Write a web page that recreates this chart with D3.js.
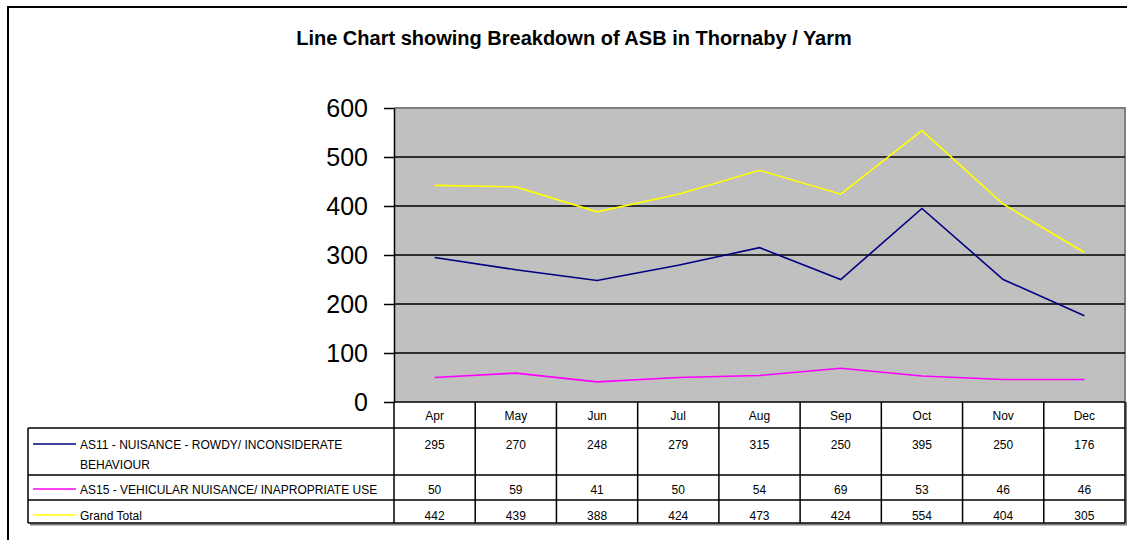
<!DOCTYPE html>
<html>
<head>
<meta charset="utf-8">
<script src="https://cdnjs.cloudflare.com/ajax/libs/d3/7.8.5/d3.min.js"></script>
<style>
  body { margin: 0; background: #fff; overflow: hidden; }
  svg { display: block; font-family: "Liberation Sans", Arial, sans-serif; }
</style>
</head>
<body>
<div id="chart"></div>
<script>
// data
const months = ["Apr", "May", "Jun", "Jul", "Aug", "Sep", "Oct", "Nov", "Dec"];
const seriesNames = [
  ["AS11 - NUISANCE - ROWDY/ INCONSIDERATE", "BEHAVIOUR"],
  ["AS15 - VEHICULAR NUISANCE/ INAPROPRIATE USE"],
  ["Grand Total"]
];
const as11 = [295, 270, 248, 279, 315, 250, 395, 250, 176];
const as15 = [50, 59, 41, 50, 54, 69, 53, 46, 46];
const grandTotal = [442, 439, 388, 424, 473, 424, 554, 404, 305];
const seriesColors = ["#000080", "#ff00ff", "#ffff00"];
const yTicks = [0, 100, 200, 300, 400, 500, 600];

const series = [as11, as15, grandTotal];

const W = 1127, H = 540;
const plot = { left: 394, right: 1125, top: 108, bottom: 402 };
// table rows: header, AS11, AS15, total
const rowEdges = [402, 428, 475, 500, 523];
const tableLeft = 28;

const svg = d3.select("#chart").append("svg")
  .attr("width", W).attr("height", H)
  .style("overflow", "hidden");

// outer frame: only top and left edges fall inside the picture
svg.append("path")
  .attr("d", `M8,${H}V7H${W}`)
  .attr("fill", "none").attr("stroke", "#000").attr("stroke-width", 2);

// title
svg.append("text")
  .attr("x", 574).attr("y", 45)
  .attr("text-anchor", "middle")
  .style("font-size", "20px").style("font-weight", "bold")
  .text("Line Chart showing Breakdown of ASB in Thornaby / Yarm");

// scales
const x = d3.scaleBand().domain(months).range([plot.left, plot.right]);
const y = d3.scaleLinear().domain([0, 600]).range([plot.bottom, plot.top]);

// plot background
svg.append("rect")
  .attr("x", plot.left).attr("y", plot.top)
  .attr("width", plot.right - plot.left).attr("height", plot.bottom - plot.top)
  .attr("fill", "#c0c0c0");
// gray border top/right
svg.append("path")
  .attr("d", `M${plot.left},${plot.top}H${plot.right}V${plot.bottom}`)
  .attr("fill", "none").attr("stroke", "#808080").attr("stroke-width", 2);

// gridlines
svg.selectAll(".grid")
  .data(yTicks.filter(d => d > 0 && d < 600))
  .join("line")
  .attr("x1", plot.left).attr("x2", plot.right)
  .attr("y1", d => y(d)).attr("y2", d => y(d))
  .attr("stroke", "#000").attr("stroke-width", 1.5);

// y axis
const yAxis = svg.append("g")
  .attr("transform", `translate(${plot.left},0)`)
  .call(d3.axisLeft(y).tickValues(yTicks).tickSize(10).tickPadding(16).tickSizeOuter(0));
yAxis.select(".domain").attr("stroke", "#000").attr("stroke-width", 1.5);
yAxis.selectAll(".tick line").attr("stroke", "#000").attr("stroke-width", 1.5);
yAxis.selectAll(".tick text")
  .attr("fill", "#000")
  .style("font-size", "25px")
  .style("font-family", "'Liberation Sans', Arial, sans-serif");

// lines
const line = d3.line()
  .x((d, i) => x(months[i]) + x.bandwidth() / 2)
  .y(d => y(d));

svg.selectAll(".series")
  .data(series)
  .join("path")
  .attr("fill", "none")
  .attr("stroke", (d, i) => seriesColors[i])
  .attr("stroke-width", 1.6)
  .attr("d", line);

// data table
const tbl = svg.append("g");
const tableRight = plot.right;

// shadow
tbl.append("path")
  .attr("d", `M${tableLeft + 2},${rowEdges[4] + 1.5}H${tableRight + 1.5}V${rowEdges[0]}`)
  .attr("fill", "none").attr("stroke", "#808080").attr("stroke-width", 2);

// horizontal rules
tbl.selectAll(".hr")
  .data(rowEdges)
  .join("line")
  .attr("x1", (d, i) => i === 0 ? plot.left : tableLeft)
  .attr("x2", tableRight)
  .attr("y1", d => d).attr("y2", d => d)
  .attr("stroke", "#000").attr("stroke-width", 1.5);

// left border of table (data rows only)
tbl.append("line")
  .attr("x1", tableLeft).attr("x2", tableLeft)
  .attr("y1", rowEdges[1]).attr("y2", rowEdges[4])
  .attr("stroke", "#000").attr("stroke-width", 1.5);

// vertical rules at column edges
const colEdges = months.map(m => x(m)).concat([plot.right]);
tbl.selectAll(".vr")
  .data(colEdges)
  .join("line")
  .attr("x1", d => d).attr("x2", d => d)
  .attr("y1", rowEdges[0]).attr("y2", rowEdges[4])
  .attr("stroke", "#000").attr("stroke-width", 1.5);

// month header
tbl.selectAll(".month")
  .data(months)
  .join("text")
  .attr("x", d => x(d) + x.bandwidth() / 2)
  .attr("y", (rowEdges[0] + rowEdges[1]) / 2 + 4.5)
  .attr("text-anchor", "middle")
  .style("font-size", "12px")
  .text(d => d);

// values
const valueY = [444, 489, 515];
series.forEach((vals, r) => {
  tbl.selectAll(".v" + r)
    .data(vals)
    .join("text")
    .attr("x", (d, i) => x(months[i]) + x.bandwidth() / 2)
    .attr("y", valueY[r] + 4.5)
    .attr("text-anchor", "middle")
    .style("font-size", "12px")
    .text(d => d);
});

// legend keys + names
seriesNames.forEach((lines, r) => {
  tbl.append("line")
    .attr("x1", 33).attr("x2", 76)
    .attr("y1", valueY[r]).attr("y2", valueY[r])
    .attr("stroke", seriesColors[r]).attr("stroke-width", 1.6);
  lines.forEach((t, k) => {
    tbl.append("text")
      .attr("x", 80)
      .attr("y", valueY[r] + 4.5 + k * 20)
      .style("font-size", "12px")
      .text(t);
  });
});
</script>
</body>
</html>
